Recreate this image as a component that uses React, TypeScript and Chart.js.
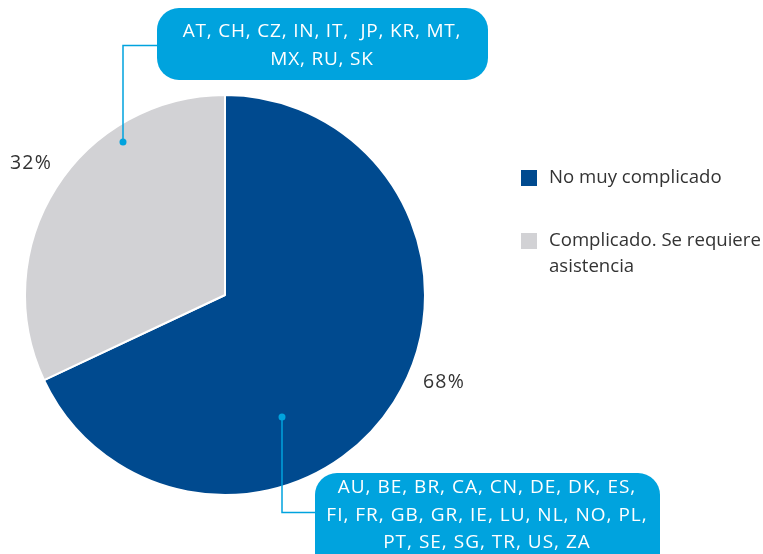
import React, { useEffect, useRef } from "react";
import { Chart, registerables } from "chart.js";

Chart.register(...registerables);

const categories = ["No muy complicado", "Complicado. Se requiere asistencia"];
const legendLines = [["No muy complicado"], ["Complicado. Se requiere", "asistencia"]];
const values = [68, 32];
const valueLabels = ["68%", "32%"];
const colors = ["#004A8F", "#D2D2D5"];
const calloutTop = ["AT, CH, CZ, IN, IT,  JP, KR, MT,", "MX, RU, SK"];
const calloutBottom = [
  "AU, BE, BR, CA, CN, DE, DK, ES,",
  "FI, FR, GB, GR, IE, LU, NL, NO, PL,",
  "PT, SE, SG, TR, US, ZA",
];

const FONT = '"Open Sans", "Noto Sans", sans-serif';
const CYAN = "#00A3DE";
const TEXT = "#333333";

function roundRect(ctx: CanvasRenderingContext2D, x: number, y: number, w: number, h: number, r: number) {
  ctx.beginPath();
  ctx.moveTo(x + r, y);
  ctx.lineTo(x + w - r, y);
  ctx.arcTo(x + w, y, x + w, y + r, r);
  ctx.lineTo(x + w, y + h - r);
  ctx.arcTo(x + w, y + h, x + w - r, y + h, r);
  ctx.lineTo(x + r, y + h);
  ctx.arcTo(x, y + h, x, y + h - r, r);
  ctx.lineTo(x, y + r);
  ctx.arcTo(x, y, x + r, y, r);
  ctx.closePath();
}

const overlayPlugin = {
  id: "overlay",
  afterDraw(chart: any) {
    const ctx: any = chart.ctx;
    const meta = chart.getDatasetMeta(0);
    const arc0 = meta.data[0];
    const cx = arc0.x;
    const cy = arc0.y;
    const R = arc0.outerRadius;
    ctx.save();
    ctx.textBaseline = "middle";

    // percentage labels
    ctx.font = `19.5px ${FONT}`;
    ctx.letterSpacing = "1.2px";
    ctx.fillStyle = TEXT;
    ctx.textAlign = "center";
    const labelPos = [
      [cx + 1.095 * R, cy + 0.435 * R],
      [cx - 0.97 * R, cy - 0.66 * R],
    ];
    valueLabels.forEach((t, i) => ctx.fillText(t, labelPos[i][0], labelPos[i][1]));

    // leader lines
    ctx.strokeStyle = CYAN;
    ctx.fillStyle = CYAN;
    ctx.lineWidth = 1.5;
    const gdx = cx - 0.51 * R, gdy = cy - 0.765 * R;
    ctx.beginPath();
    ctx.moveTo(gdx, gdy);
    ctx.lineTo(gdx, 45.5);
    ctx.lineTo(160, 45.5);
    ctx.stroke();
    ctx.beginPath();
    ctx.arc(gdx, gdy, 3.5, 0, Math.PI * 2);
    ctx.fill();
    const bdx = cx + 0.285 * R, bdy = cy + 0.61 * R;
    ctx.beginPath();
    ctx.moveTo(bdx, bdy);
    ctx.lineTo(bdx, 512.5);
    ctx.lineTo(318, 512.5);
    ctx.stroke();
    ctx.beginPath();
    ctx.arc(bdx, bdy, 3.5, 0, Math.PI * 2);
    ctx.fill();

    // boxes
    ctx.fillStyle = CYAN;
    roundRect(ctx, 157, 8, 331, 72, 22);
    ctx.fill();
    roundRect(ctx, 315, 473, 345, 110, 22);
    ctx.fill();
    ctx.font = `19px ${FONT}`;
    ctx.fillStyle = "#FFFFFF";
    ctx.textAlign = "center";
    ctx.letterSpacing = "0.8px";
    calloutTop.forEach((t, i) => ctx.fillText(t, 322, 32 + i * 28));
    ctx.letterSpacing = "1px";
    calloutBottom.forEach((t, i) => ctx.fillText(t, 487, 488 + i * 27.5));

    // legend
    ctx.letterSpacing = "0px";
    ctx.font = `18.6px ${FONT}`;
    ctx.textAlign = "left";
    const legendY = [178, 241];
    categories.forEach((_c, i) => {
      ctx.fillStyle = colors[i];
      ctx.fillRect(521, legendY[i] - 8, 16, 16);
      ctx.fillStyle = TEXT;
      legendLines[i].forEach((t, j) => ctx.fillText(t, 549, legendY[i] + j * 26));
    });
    ctx.restore();
  },
};

export default function App() {
  const ref = useRef<HTMLCanvasElement>(null);
  useEffect(() => {
    const chart = new Chart(ref.current!, {
      type: "pie",
      data: {
        labels: categories,
        datasets: [
          {
            data: values,
            backgroundColor: colors,
            borderColor: "#FFFFFF",
            borderWidth: 2,
          },
        ],
      },
      options: {
        animation: false,
        responsive: false,
        layout: { padding: { left: 24, right: 337, top: 94, bottom: 58 } },
        plugins: { legend: { display: false }, tooltip: { enabled: false } },
      },
      plugins: [overlayPlugin],
    });
    return () => chart.destroy();
  }, []);
  return (
    <div style={{ position: "absolute", left: 0, top: 0, width: 763, height: 554, background: "#fff" }}>
      <canvas ref={ref} width={763} height={554} />
    </div>
  );
}
